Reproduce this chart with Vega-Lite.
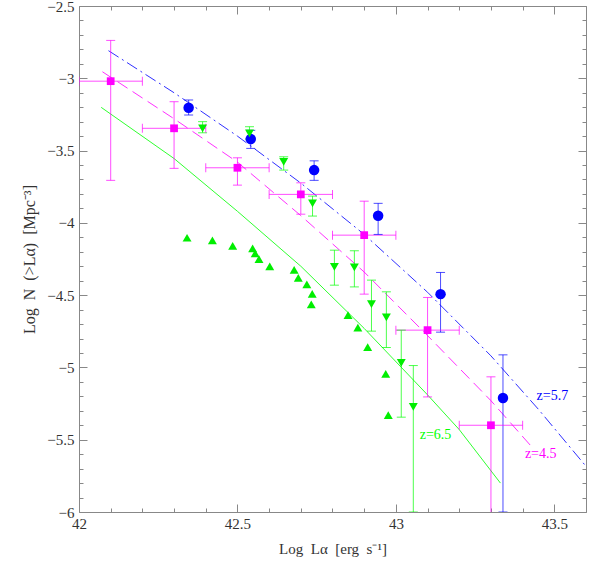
{
  "$schema": "https://vega.github.io/schema/vega-lite/v6.json",
  "width": 507,
  "height": 506,
  "autosize": "none",
  "padding": {"left": 79, "top": 6, "right": 16, "bottom": 49},
  "config": {
    "view": {"stroke": null},
    "font": "Liberation Serif",
    "axis": {
      "labelFont": "Liberation Serif",
      "titleFont": "Liberation Serif",
      "labelFontSize": 15,
      "titleFontSize": 15,
      "titleFontWeight": "normal",
      "labelColor": "#333",
      "titleColor": "#333",
      "domainColor": "#888",
      "tickColor": "#888",
      "grid": false,
      "labelFlush": false,
      "labelOverlap": false
    }
  },
  "datasets": {
    "pts": [
      {"s": "m", "x": 42.1, "y": -3.02, "ylo": -3.706, "yhi": -2.738, "xlo": 42.0, "xhi": 42.2},
      {"s": "m", "x": 42.3, "y": -3.346, "ylo": -3.623, "yhi": -3.162, "xlo": 42.2, "xhi": 42.4},
      {"s": "m", "x": 42.5, "y": -3.619, "ylo": -3.739, "yhi": -3.55, "xlo": 42.4, "xhi": 42.6},
      {"s": "m", "x": 42.7, "y": -3.803, "ylo": -3.94, "yhi": -3.723, "xlo": 42.6, "xhi": 42.8},
      {"s": "m", "x": 42.9, "y": -4.085, "ylo": -4.493, "yhi": -3.85, "xlo": 42.8, "xhi": 43.0},
      {"s": "m", "x": 43.1, "y": -4.742, "ylo": -5.204, "yhi": -4.516, "xlo": 43.0, "xhi": 43.2},
      {"s": "m", "x": 43.3, "y": -5.4, "ylo": -6.3, "yhi": -5.065, "xlo": 43.2, "xhi": 43.4},
      {"s": "b", "x": 42.346, "y": -3.204, "ylo": -3.254, "yhi": -3.15},
      {"s": "b", "x": 42.542, "y": -3.42, "ylo": -3.485, "yhi": -3.36},
      {"s": "b", "x": 42.742, "y": -3.635, "ylo": -3.706, "yhi": -3.571},
      {"s": "b", "x": 42.944, "y": -3.951, "ylo": -4.08, "yhi": -3.865},
      {"s": "b", "x": 43.141, "y": -4.493, "ylo": -4.756, "yhi": -4.343},
      {"s": "b", "x": 43.338, "y": -5.211, "ylo": -6.0, "yhi": -4.913},
      {"s": "g", "x": 42.39, "y": -3.346, "ylo": -3.377, "yhi": -3.3},
      {"s": "g", "x": 42.538, "y": -3.381, "ylo": -3.42, "yhi": -3.335},
      {"s": "g", "x": 42.646, "y": -3.578, "ylo": -3.635, "yhi": -3.543},
      {"s": "g", "x": 42.737, "y": -3.865, "ylo": -3.953, "yhi": -3.815},
      {"s": "g", "x": 42.806, "y": -4.304, "ylo": -4.431, "yhi": -4.189},
      {"s": "g", "x": 42.869, "y": -4.308, "ylo": -4.443, "yhi": -4.193},
      {"s": "g", "x": 42.923, "y": -4.562, "ylo": -4.749, "yhi": -4.396},
      {"s": "g", "x": 42.97, "y": -4.654, "ylo": -4.862, "yhi": -4.477},
      {"s": "g", "x": 43.017, "y": -4.968, "ylo": -5.344, "yhi": -4.742},
      {"s": "g", "x": 43.055, "y": -5.273, "ylo": -6.0, "yhi": -4.987}
    ],
    "lower": [
      {"x": 42.341, "y": -4.103},
      {"x": 42.421, "y": -4.121},
      {"x": 42.485, "y": -4.159},
      {"x": 42.548, "y": -4.177},
      {"x": 42.556, "y": -4.211},
      {"x": 42.568, "y": -4.251},
      {"x": 42.602, "y": -4.301},
      {"x": 42.679, "y": -4.325},
      {"x": 42.692, "y": -4.38},
      {"x": 42.719, "y": -4.426},
      {"x": 42.736, "y": -4.491},
      {"x": 42.733, "y": -4.564},
      {"x": 42.849, "y": -4.638},
      {"x": 42.88, "y": -4.725},
      {"x": 42.911, "y": -4.86},
      {"x": 42.968, "y": -5.045},
      {"x": 42.976, "y": -5.33}
    ],
    "lines": [
      {"s": "b", "x": 42.093, "y": -2.809},
      {"s": "b", "x": 42.3, "y": -3.1},
      {"s": "b", "x": 42.5, "y": -3.4},
      {"s": "b", "x": 42.7, "y": -3.725},
      {"s": "b", "x": 42.9, "y": -4.08},
      {"s": "b", "x": 43.1, "y": -4.48},
      {"s": "b", "x": 43.3, "y": -4.92},
      {"s": "b", "x": 43.45, "y": -5.29},
      {"s": "b", "x": 43.597, "y": -5.676},
      {"s": "m", "x": 42.074, "y": -2.955},
      {"s": "m", "x": 42.3, "y": -3.28},
      {"s": "m", "x": 42.5, "y": -3.58},
      {"s": "m", "x": 42.7, "y": -3.95},
      {"s": "m", "x": 42.9, "y": -4.34},
      {"s": "m", "x": 43.1, "y": -4.78},
      {"s": "m", "x": 43.3, "y": -5.23},
      {"s": "m", "x": 43.425, "y": -5.54},
      {"s": "g", "x": 42.07, "y": -3.201},
      {"s": "g", "x": 42.3, "y": -3.555},
      {"s": "g", "x": 42.5, "y": -3.92},
      {"s": "g", "x": 42.7, "y": -4.3},
      {"s": "g", "x": 42.9, "y": -4.73},
      {"s": "g", "x": 43.1, "y": -5.19},
      {"s": "g", "x": 43.2, "y": -5.43},
      {"s": "g", "x": 43.33, "y": -5.8}
    ],
    "labels": [
      {"s": "b", "t": "z=5.7", "x": 43.494, "y": -5.199},
      {"s": "m", "t": "z=4.5", "x": 43.457, "y": -5.602},
      {"s": "g", "t": "z=6.5", "x": 43.125, "y": -5.469}
    ]
  },
  "resolve": {"axis": {"x": "independent", "y": "independent"}},
  "layer": [
    {
      "data": {"name": "lines"},
      "transform": [{"filter": "datum.s === 'b'"}],
      "mark": {"type": "line", "color": "#3030ff", "strokeWidth": 1, "strokeDash": [12, 4, 2, 4], "clip": true},
      "encoding": {
        "x": {"field": "x", "type": "quantitative", "scale": {"domain": [42, 43.6], "nice": false, "zero": false},
          "axis": {"orient": "bottom", "title": "Log\u2002Lα\u2002[erg\u2002s⁻¹]", "titlePadding": 6, "titleFontSize": 15,
            "values": [42, 42.1, 42.2, 42.3, 42.4, 42.5, 42.6, 42.7, 42.8, 42.9, 43, 43.1, 43.2, 43.3, 43.4, 43.5, 43.6],
            "format": ".2~f",
            "labelExpr": "abs(datum.value*2 - round(datum.value*2)) < 0.001 ? datum.label : ''",
            "tickSize": {"condition": {"test": "abs(datum.value*2 - round(datum.value*2)) < 0.001", "value": -8}, "value": -4},
            "labelPadding": 12}},
        "y": {"field": "y", "type": "quantitative", "scale": {"domain": [-6, -2.5], "nice": false, "zero": false},
          "axis": {"orient": "left", "title": "Log\u2002N\u2002(>Lα)\u2002[Mpc⁻³]", "titlePadding": 9, "titleFontSize": 16,
            "values": [-6, -5.9, -5.8, -5.7, -5.6, -5.5, -5.4, -5.3, -5.2, -5.1, -5, -4.9, -4.8, -4.7, -4.6, -4.5, -4.4, -4.3, -4.2, -4.1, -4, -3.9, -3.8, -3.7, -3.6, -3.5, -3.4, -3.3, -3.2, -3.1, -3, -2.9, -2.8, -2.7, -2.6, -2.5],
            "format": ".2~f",
            "labelExpr": "abs(datum.value*2 - round(datum.value*2)) < 0.001 ? datum.label : ''",
            "tickSize": {"condition": {"test": "abs(datum.value*2 - round(datum.value*2)) < 0.001", "value": -8}, "value": -4},
            "labelPadding": 13}}
      }
    },
    {
      "data": {"name": "lines"},
      "transform": [{"filter": "datum.s === 'm'"}],
      "mark": {"type": "line", "color": "#ff30ff", "strokeWidth": 1, "strokeDash": [12, 6], "clip": true},
      "encoding": {
        "x": {"field": "x", "type": "quantitative",
          "axis": {"orient": "top", "title": null, "labels": false,
            "values": [42, 42.1, 42.2, 42.3, 42.4, 42.5, 42.6, 42.7, 42.8, 42.9, 43, 43.1, 43.2, 43.3, 43.4, 43.5, 43.6],
            "tickSize": {"condition": {"test": "abs(datum.value*2 - round(datum.value*2)) < 0.001", "value": -8}, "value": -4}}},
        "y": {"field": "y", "type": "quantitative",
          "axis": {"orient": "right", "title": null, "labels": false,
            "values": [-6, -5.9, -5.8, -5.7, -5.6, -5.5, -5.4, -5.3, -5.2, -5.1, -5, -4.9, -4.8, -4.7, -4.6, -4.5, -4.4, -4.3, -4.2, -4.1, -4, -3.9, -3.8, -3.7, -3.6, -3.5, -3.4, -3.3, -3.2, -3.1, -3, -2.9, -2.8, -2.7, -2.6, -2.5],
            "tickSize": {"condition": {"test": "abs(datum.value*2 - round(datum.value*2)) < 0.001", "value": -8}, "value": -4}}}
      }
    },
    {
      "data": {"name": "lines"},
      "transform": [{"filter": "datum.s === 'g'"}],
      "mark": {"type": "line", "color": "#30ff30", "strokeWidth": 1, "clip": true},
      "encoding": {
        "x": {"field": "x", "type": "quantitative", "axis": null},
        "y": {"field": "y", "type": "quantitative", "axis": null}
      }
    },
    {
      "data": {"name": "pts"},
      "mark": {"type": "rule", "strokeWidth": 1, "opacity": 0.7, "clip": true},
      "encoding": {
        "x": {"field": "x", "type": "quantitative", "axis": null},
        "y": {"field": "ylo", "type": "quantitative", "axis": null},
        "y2": {"field": "yhi"},
        "color": {"field": "s", "type": "nominal", "scale": {"domain": ["b", "m", "g"], "range": ["#0000ff", "#ff00ff", "#00ff00"]}, "legend": null}
      }
    },
    {
      "data": {"name": "pts"},
      "transform": [{"filter": "datum.s === 'm'"}],
      "mark": {"type": "rule", "strokeWidth": 1, "opacity": 0.7, "clip": true},
      "encoding": {
        "x": {"field": "xlo", "type": "quantitative", "axis": null},
        "x2": {"field": "xhi"},
        "y": {"field": "y", "type": "quantitative", "axis": null},
        "color": {"field": "s", "type": "nominal", "legend": null}
      }
    },
    {
      "data": {"name": "pts"},
      "mark": {"type": "tick", "orient": "horizontal", "size": 9, "thickness": 1, "opacity": 0.7, "clip": true},
      "encoding": {
        "x": {"field": "x", "type": "quantitative", "axis": null},
        "y": {"field": "ylo", "type": "quantitative", "axis": null},
        "color": {"field": "s", "type": "nominal", "legend": null}
      }
    },
    {
      "data": {"name": "pts"},
      "mark": {"type": "tick", "orient": "horizontal", "size": 9, "thickness": 1, "opacity": 0.7, "clip": true},
      "encoding": {
        "x": {"field": "x", "type": "quantitative", "axis": null},
        "y": {"field": "yhi", "type": "quantitative", "axis": null},
        "color": {"field": "s", "type": "nominal", "legend": null}
      }
    },
    {
      "data": {"name": "pts"},
      "transform": [{"filter": "datum.s === 'm'"}],
      "mark": {"type": "tick", "orient": "vertical", "size": 9, "thickness": 1, "opacity": 0.7, "clip": true},
      "encoding": {
        "x": {"field": "xlo", "type": "quantitative", "axis": null},
        "y": {"field": "y", "type": "quantitative", "axis": null},
        "color": {"field": "s", "type": "nominal", "legend": null}
      }
    },
    {
      "data": {"name": "pts"},
      "transform": [{"filter": "datum.s === 'm'"}],
      "mark": {"type": "tick", "orient": "vertical", "size": 9, "thickness": 1, "opacity": 0.7, "clip": true},
      "encoding": {
        "x": {"field": "xhi", "type": "quantitative", "axis": null},
        "y": {"field": "y", "type": "quantitative", "axis": null},
        "color": {"field": "s", "type": "nominal", "legend": null}
      }
    },
    {
      "data": {"name": "pts"},
      "transform": [{"filter": "datum.s === 'b'"}],
      "mark": {"type": "point", "shape": "circle", "filled": true, "size": 110, "color": "#0000ff", "opacity": 1},
      "encoding": {
        "x": {"field": "x", "type": "quantitative", "axis": null},
        "y": {"field": "y", "type": "quantitative", "axis": null}
      }
    },
    {
      "data": {"name": "pts"},
      "transform": [{"filter": "datum.s === 'm'"}],
      "mark": {"type": "point", "shape": "square", "filled": true, "size": 60, "color": "#ff00ff", "opacity": 1},
      "encoding": {
        "x": {"field": "x", "type": "quantitative", "axis": null},
        "y": {"field": "y", "type": "quantitative", "axis": null}
      }
    },
    {
      "data": {"name": "pts"},
      "transform": [{"filter": "datum.s === 'g'"}],
      "mark": {"type": "point", "shape": "triangle-down", "filled": true, "size": 80, "color": "#00ee00", "opacity": 1},
      "encoding": {
        "x": {"field": "x", "type": "quantitative", "axis": null},
        "y": {"field": "y", "type": "quantitative", "axis": null}
      }
    },
    {
      "data": {"name": "lower"},
      "mark": {"type": "point", "shape": "triangle-up", "filled": true, "size": 80, "color": "#00ee00", "opacity": 1},
      "encoding": {
        "x": {"field": "x", "type": "quantitative", "axis": null},
        "y": {"field": "y", "type": "quantitative", "axis": null}
      }
    },
    {
      "data": {"name": "labels"},
      "mark": {"type": "text", "font": "Liberation Serif", "fontSize": 14, "align": "center", "baseline": "middle"},
      "encoding": {
        "x": {"field": "x", "type": "quantitative", "axis": null},
        "y": {"field": "y", "type": "quantitative", "axis": null},
        "text": {"field": "t"},
        "color": {"field": "s", "type": "nominal", "scale": {"domain": ["b", "m", "g"], "range": ["#3030ff", "#ff30ff", "#30e030"]}, "legend": null}
      }
    }
  ]
}
